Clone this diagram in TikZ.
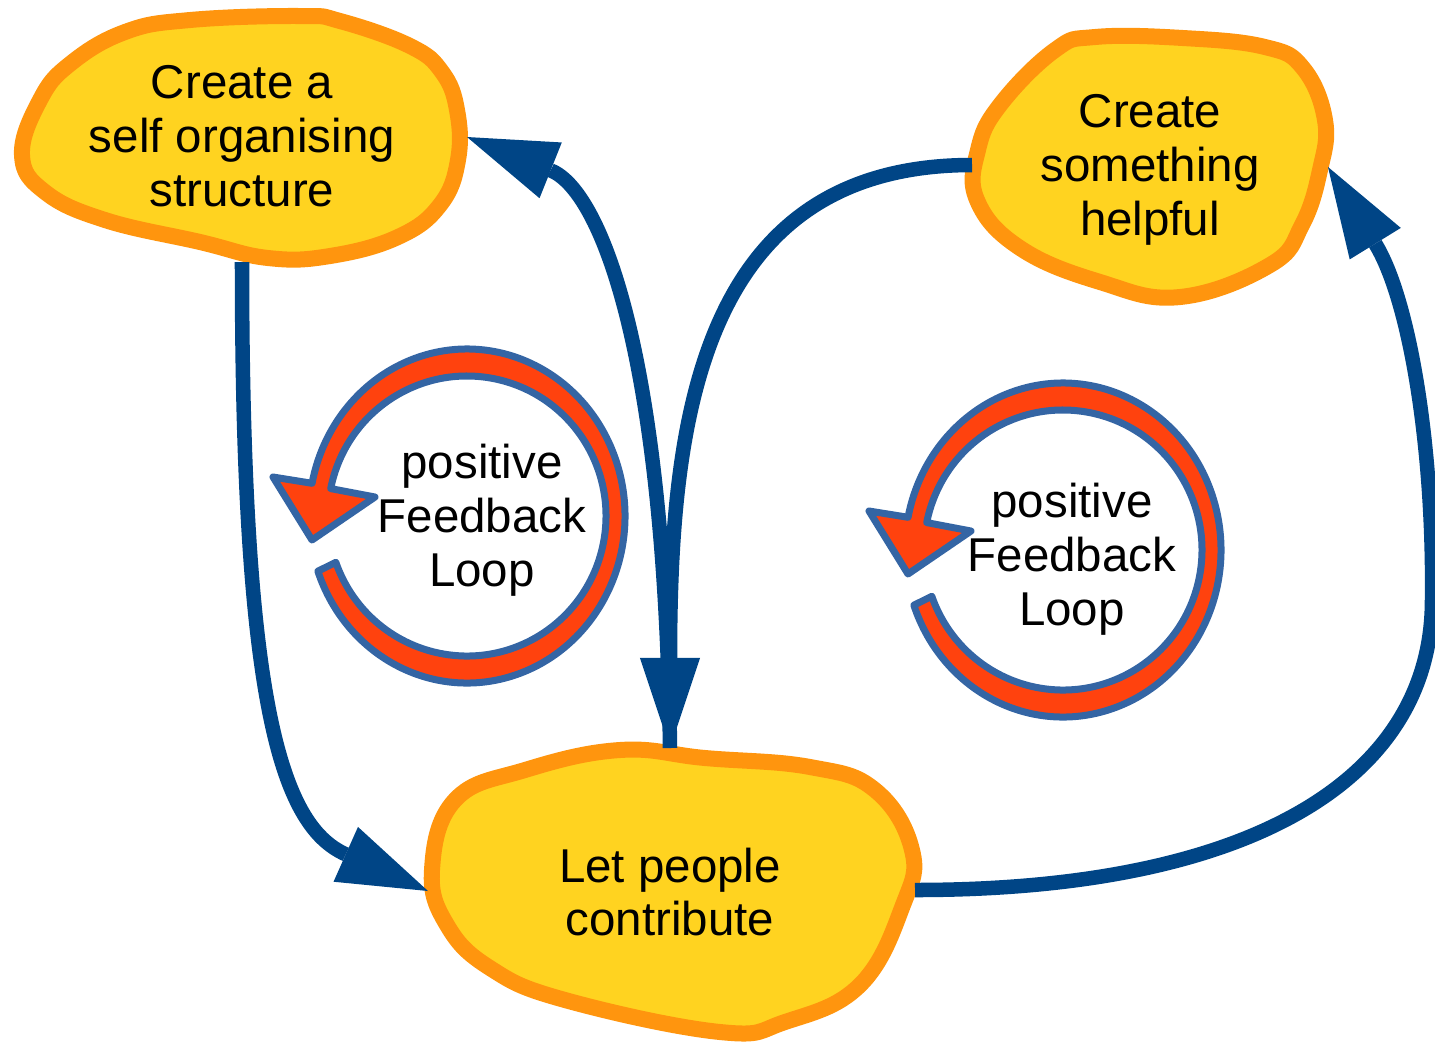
\documentclass[tikz,border=0pt]{standalone}
\usepackage{fontspec}
\setmainfont{Liberation Sans}
\usetikzlibrary{arrows.meta}
\definecolor{blue1}{HTML}{004586}
\definecolor{yellow1}{HTML}{FFD320}
\definecolor{orange1}{HTML}{FF950E}
\definecolor{red1}{HTML}{FF420E}
\definecolor{blue2}{HTML}{3465A4}

\begin{document}
\begin{tikzpicture}[x=0.01cm,y=-0.01cm,
  blob/.style={draw=orange1,fill=yellow1,line width=1.6mm,line join=round},
  txt/.style={align=center,font=\fontsize{13.5}{15.3}\selectfont},
  link/.style={draw=blue1,line width=1.45mm,-{Triangle[length=9mm,width=6mm,line width=0pt]}},
  fbloop/.style={draw=blue2,fill=red1,line width=0.7mm,line join=round}]
\useasboundingbox (0,0) rectangle (1435,1041);

\draw[blob] plot[smooth cycle,tension=0.7] coordinates {(125,32) (190,20) (300,16) (340,21) (410,46) (442,72) (457,110) (458,160) (440,205) (398,237) (330,256) (268,258) (200,242) (105,220) (45,192) (22,155) (40,100) (70,64)};
\draw[blob] plot[smooth cycle,tension=0.7] coordinates {(1055,50) (1095,37) (1183,38) (1265,47) (1303,68) (1325,120) (1320,170) (1302,225) (1270,265) (1180,297) (1100,282) (1020,248) (977,200) (978,150) (1000,105)};
\draw[blob] plot[smooth cycle,tension=0.7] coordinates {(525,770) (620,750) (705,758) (810,767) (875,790) (912,850) (903,905) (860,985) (785,1022) (720,1032) (565,1000) (490,968) (447,925) (432,870) (455,800)};

\node[txt] (selforg) at (242,136) {Create a\\self organising\\structure};
\node[txt] (helpful) at (1150,170) {Create\\something\\helpful};
\node[txt] (contrib) at (670,892) {Let people\\contribute};

\begin{scope}[shift={(467,516)}]
\draw[fbloop] (160.7:158 and 167) arc[start angle=160.7,end angle=-168.7,x radius=158,y radius=167]
  -- (-194,-39) -- (-155,24) -- (-92,-19) -- (-168.7:139 and 140)
  arc[start angle=-168.7,end angle=160.7,x radius=139,y radius=140] -- cycle;
\end{scope}
\begin{scope}[shift={(1063,550)}]
\draw[fbloop] (160.7:158 and 167) arc[start angle=160.7,end angle=-168.7,x radius=158,y radius=167]
  -- (-194,-39) -- (-155,24) -- (-92,-19) -- (-168.7:139 and 140)
  arc[start angle=-168.7,end angle=160.7,x radius=139,y radius=140] -- cycle;
\end{scope}
\node[txt] (leftloop) at (482,520) {positive\\Feedback\\Loop};
\node[txt] (rightloop) at (1072,559) {positive\\Feedback\\Loop};

\coordinate (selforg-bot) at (242,262);
\coordinate (selforg-right) at (467,137);
\coordinate (helpful-left) at (972,165);
\coordinate (helpful-right) at (1328,167);
\coordinate (contrib-top) at (670,748);
\coordinate (contrib-left) at (428,891);
\coordinate (contrib-right) at (915,890);

\draw[link] (selforg-bot) .. controls (242,700) and (280,825) .. (contrib-left);
\draw[link] (contrib-top) .. controls (665,350) and (600,190) .. (selforg-right);
\draw[link] (helpful-left) .. controls (700,165) and (670,420) .. (contrib-top);
\draw[link] (contrib-right) .. controls (1250,890) and (1432,780) .. (1432,600)
  .. controls (1434,450) and (1410,300) .. (helpful-right);
\end{tikzpicture}
\end{document}
